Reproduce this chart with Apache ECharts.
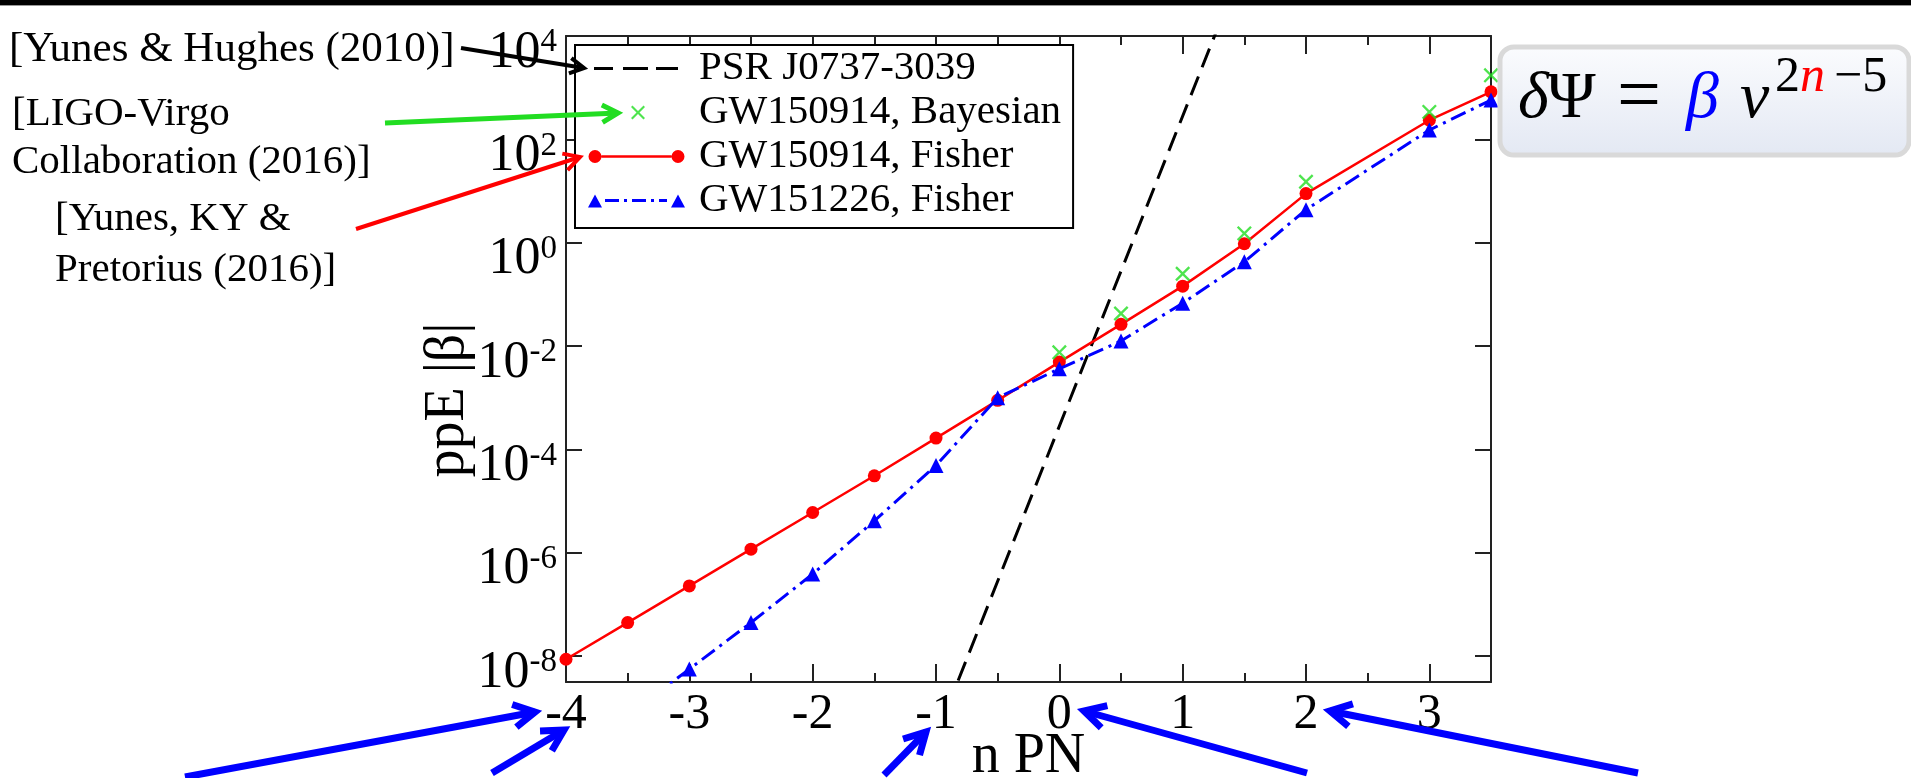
<!DOCTYPE html>
<html><head><meta charset="utf-8">
<script src="https://cdn.jsdelivr.net/npm/echarts@6/dist/echarts.min.js"></script>
<style>html,body{margin:0;padding:0;background:#fff}#c{width:1911px;height:778px}</style>
</head><body><div id="c"></div>
<script>
// ---- data: PN order n and log10|beta| ----
const nPNFisher150914 = [-4,-3.5,-3,-2.5,-2,-1.5,-1,-0.5,0,0.5,1,1.5,2,3,3.5];
const log10BetaFisher150914 = [-8.06,-7.35,-6.64,-5.93,-5.22,-4.51,-3.78,-3.05,-2.31,-1.58,-0.84,-0.02,0.95,2.37,2.92];
const nPNFisher151226 = [-3.5,-3,-2.5,-2,-1.5,-1,-0.5,0,0.5,1,1.5,2,3,3.5];
const log10BetaFisher151226 = [-9.15,-8.25,-7.35,-6.41,-5.38,-4.31,-3.0,-2.44,-1.9,-1.17,-0.37,0.64,2.18,2.76];
const nPNBayesian150914 = [0,0.5,1,1.5,2,3,3.5];
const log10BetaBayesian150914 = [-2.12,-1.37,-0.6,0.18,1.18,2.53,3.24];
const nPNPsr = [-1,1.5];
const log10BetaPsr = [-9.55,5.45];
const seriesNames = ['PSR J0737-3039','GW150914, Bayesian','GW150914, Fisher','GW151226, Fisher'];
const yTickExponents = [-8,-6,-4,-2,0,2,4];
const xTickLabels = ['-4','-3','-2','-1','0','1','2','3'];

const FF = 'Liberation Serif';
const zip = (a,b) => a.map((v,i)=>[v,b[i]]);

function xPath(cx,cy,r,t){
  return `M${cx-r},${cy-r+t} L${cx-r+t},${cy-r} L${cx},${cy-t} L${cx+r-t},${cy-r} L${cx+r},${cy-r+t} L${cx+t},${cy} L${cx+r},${cy+r-t} L${cx+r-t},${cy+r} L${cx},${cy+t} L${cx-r+t},${cy+r} L${cx-r},${cy+r-t} L${cx-t},${cy} Z`;
}
const corners = 'M0,0 L0.01,0 L0,0.01 Z M100,16 L99.99,16 L100,15.99 Z ';
const iconPsr = 'path://' + corners + 'M6,6.5 L25,6.5 L25,9.5 L6,9.5 Z M35,6.5 L60,6.5 L60,9.5 L35,9.5 Z M68,6.5 L90,6.5 L90,9.5 L68,9.5 Z';
const iconBayes = 'path://' + corners + xPath(50,8,7,1.5);
const iconRed = 'path://' + corners + 'M0.5,8 A6.5,6.5 0 1 1 13.5,8 A6.5,6.5 0 1 1 0.5,8 Z M83.5,8 A6.5,6.5 0 1 1 96.5,8 A6.5,6.5 0 1 1 83.5,8 Z M13.5,6.75 L83.5,6.75 L83.5,9.25 L13.5,9.25 Z';
const iconBlue = 'path://' + corners + 'M0,15 L14,15 L7,2 Z M83,15 L97,15 L90,2 Z M17,6.5 L31,6.5 L31,9.5 L17,9.5 Z M36,6.5 L39,6.5 L39,9.5 L36,9.5 Z M44,6.5 L58,6.5 L58,9.5 L44,9.5 Z M63,6.5 L66,6.5 L66,9.5 L63,9.5 Z M71,6.5 L79,6.5 L79,9.5 L71,9.5 Z';

function arrow(x1,y1,x2,y2,color,w,head){
  const ang = Math.atan2(y2-y1,x2-x1);
  const a1 = ang+Math.PI-0.5, a2 = ang+Math.PI+0.5;
  return [
    {type:'line', silent:true, z:100, shape:{x1,y1,x2,y2}, style:{stroke:color,lineWidth:w}},
    {type:'polyline', silent:true, z:100, shape:{points:[[x2+head*Math.cos(a1),y2+head*Math.sin(a1)],[x2,y2],[x2+head*Math.cos(a2),y2+head*Math.sin(a2)]]}, style:{stroke:color,lineWidth:w,fill:null,lineJoin:'miter'}}
  ];
}
function txt(x,y,text,size,extra){
  return {type:'text', x, y, z:100, silent:true, style:Object.assign({text, fill:'#000', font:`${size}px "${FF}"`, align:'left', verticalAlign:'middle'}, extra||{})};
}

const axisColor = '#222';
const xBase = {type:'value', min:-4, max:3.5, gridIndex:0, splitLine:{show:false}};
const yBase = {type:'value', min:-8.5, max:4, splitNumber:6, splitLine:{show:false}};
const lineOn = {show:true, onZero:false, lineStyle:{color:axisColor,width:2}};
const lineOff = {show:false, onZero:false};

const graphics = [
  {type:'rect', z:100, shape:{x:0,y:0,width:1911,height:5}, style:{fill:'#000'}},
  {type:'rect', z:100, shape:{x:0,y:5,width:1911,height:1}, style:{fill:'#999'}},
  txt(9,50,'[Yunes & Hughes (2010)]',43),
  txt(12,114,'[LIGO-Virgo',41),
  txt(12,162,'Collaboration (2016)]',41),
  txt(55,219,'[Yunes, KY &',41),
  txt(55,270,'Pretorius (2016)]',41),
  ...arrow(461,48,584,68,'#000',4,16),
  ...arrow(385,123,618,113,'#22dd22',5,18),
  ...arrow(356,229,580,157,'#ff0000',4,18),
  ...arrow(185,777,535,712,'#0000ff',7,24),
  ...arrow(492,773,564,730,'#0000ff',7,24),
  ...arrow(884,775,926,732,'#0000ff',7,24),
  ...arrow(1307,773,1084,711,'#0000ff',7,24),
  ...arrow(1638,773,1330,711,'#0000ff',7,24),
  {type:'rect', z:100, shape:{x:1500,y:47,width:409,height:108,r:14},
   style:{stroke:'#d9d9d9', lineWidth:5,
     fill:{type:'linear',x:0,y:0,x2:0,y2:1,colorStops:[{offset:0,color:'#fbfcfe'},{offset:1,color:'#e3e8f3'}]}}},
  txt(1518,100,'δ',66,{font:`italic 66px "${FF}"`}),
  txt(1547,100,'Ψ',66),
  txt(1617,100,'=',78),
  txt(1686,100,'β',66,{font:`italic 66px "${FF}"`, fill:'#0000ff'}),
  txt(1740,100,'v',66,{font:`italic 66px "${FF}"`}),
  txt(1775,78,'2',50),
  txt(1800,78,'n',50,{font:`italic 50px "${FF}"`, fill:'#ff0000'}),
  txt(1834,78,'−5',50)
];

const chart = echarts.init(document.getElementById('c'), null, {renderer:'canvas'});
chart.setOption({
  animation:false,
  backgroundColor:'#fff',
  grid:{left:566,right:420,top:36,bottom:96,containLabel:false,outerBoundsMode:'none'},
  xAxis:[
    Object.assign({}, xBase, {position:'bottom', interval:1, axisLine:lineOn,
      axisTick:{show:true,inside:true,length:18,lineStyle:{color:axisColor,width:2}},
      axisLabel:{show:true, margin:8, color:'#000', fontFamily:FF, fontSize:50,
        formatter:v=>{const i=Math.round(v)+4; return (Number.isInteger(v) && xTickLabels[i]!==undefined)?xTickLabels[i]:'';}},
      name:'n PN', nameLocation:'middle', nameGap:47, nameMoveOverlap:false,
      nameTextStyle:{fontFamily:FF,fontSize:56,color:'#000'}}),
    Object.assign({}, xBase, {position:'bottom', interval:0.5, axisLine:lineOff, axisLabel:{show:false},
      axisTick:{show:true,inside:true,length:9,lineStyle:{color:axisColor,width:2}}}),
    Object.assign({}, xBase, {position:'top', interval:1, axisLine:lineOn, axisLabel:{show:false},
      axisTick:{show:true,inside:true,length:18,lineStyle:{color:axisColor,width:2}}}),
    Object.assign({}, xBase, {position:'top', interval:0.5, axisLine:lineOff, axisLabel:{show:false},
      axisTick:{show:true,inside:true,length:9,lineStyle:{color:axisColor,width:2}}})
  ],
  yAxis:[
    Object.assign({}, yBase, {position:'left', axisLine:lineOn,
      axisTick:{show:true,inside:true,length:16,lineStyle:{color:axisColor,width:2}},
      axisLabel:{show:true, margin:9, padding:[28,0,0,0],
        formatter:v=> yTickExponents.indexOf(v)>=0 ? `{b|10}{e|${v}}` : '',
        rich:{
          b:{fontFamily:FF,fontSize:52,lineHeight:52,color:'#000',padding:[6,0,0,0]},
          e:{fontFamily:FF,fontSize:33,lineHeight:33,color:'#000',verticalAlign:'top',padding:[2,0,0,0]}
        }},
      name:'ppE |β|', nameLocation:'middle', nameGap:90, nameRotate:90, nameMoveOverlap:false,
      nameTextStyle:{fontFamily:FF,fontSize:56,color:'#000',padding:[0,82,0,0]}}),
    Object.assign({}, yBase, {position:'right', axisLine:lineOn,
      axisTick:{show:true,inside:true,length:16,lineStyle:{color:axisColor,width:2}},
      axisLabel:{show:false}})
  ],
  legend:{
    show:true, orient:'vertical', left:575, top:45, selectedMode:false,
    itemWidth:100, itemHeight:16, itemGap:3, symbolKeepAspect:true,
    padding:[3,12,7,13], borderColor:'#000', borderWidth:2, backgroundColor:'#fff',
    itemStyle:{borderWidth:0},
    textStyle:{fontFamily:FF,fontSize:41,color:'#000',padding:[0,0,0,6]},
    data:[
      {name:seriesNames[0], icon:iconPsr, itemStyle:{color:'#000'}},
      {name:seriesNames[1], icon:iconBayes, itemStyle:{color:'#22dd22'}},
      {name:seriesNames[2], icon:iconRed, itemStyle:{color:'#ff0000'}},
      {name:seriesNames[3], icon:iconBlue, itemStyle:{color:'#0000ff'}}
    ]
  },
  series:[
    {name:seriesNames[0], type:'line', xAxisIndex:0, yAxisIndex:0, data:zip(nPNPsr,log10BetaPsr),
     symbol:'none', z:2, lineStyle:{color:'#000',width:3,type:[20,10]}, itemStyle:{color:'#000'}},
    {name:seriesNames[2], type:'line', xAxisIndex:0, yAxisIndex:0, data:zip(nPNFisher150914,log10BetaFisher150914),
     symbol:'circle', symbolSize:13, showAllSymbol:true, z:3,
     lineStyle:{color:'#ff0000',width:2.5}, itemStyle:{color:'#ff0000'}},
    {name:seriesNames[3], type:'line', xAxisIndex:0, yAxisIndex:0, data:zip(nPNFisher151226,log10BetaFisher151226),
     symbol:'triangle', symbolSize:15, showAllSymbol:true, z:4,
     lineStyle:{color:'#0000ff',width:3,type:[16,6,3,6]}, itemStyle:{color:'#0000ff'}},
    {name:seriesNames[1], type:'scatter', xAxisIndex:0, yAxisIndex:0, data:zip(nPNBayesian150914,log10BetaBayesian150914),
     symbol:'path://'+xPath(5,5,5,1.1), symbolSize:15, z:5, itemStyle:{color:'#22dd22'}}
  ],
  graphic:graphics
});
</script></body></html>
